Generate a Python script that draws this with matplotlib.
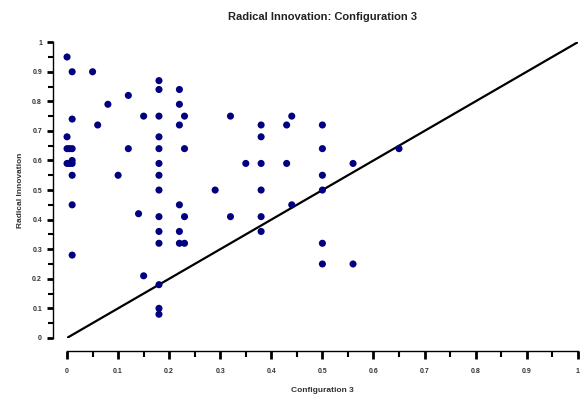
import matplotlib
matplotlib.use('Agg')
import matplotlib.pyplot as plt
import numpy as np
from matplotlib.ticker import MultipleLocator

# =============================================================================
# DATA
# =============================================================================

config3 = [0.00, 0.00, 0.00, 0.005, 0.01, 0.00, 0.005, 0.01,
           0.01, 0.01, 0.01, 0.01, 0.01, 0.01,
           0.05, 0.06, 0.08, 0.10, 0.12, 0.12, 0.14, 0.15, 0.15,
           0.18, 0.18, 0.18, 0.18, 0.18, 0.18, 0.18, 0.18, 0.18,
           0.18, 0.18, 0.18, 0.18, 0.18,
           0.22, 0.22, 0.22, 0.22, 0.22, 0.22,
           0.23, 0.23, 0.23, 0.23,
           0.29, 0.32, 0.32, 0.35,
           0.38, 0.38, 0.38, 0.38, 0.38, 0.38,
           0.43, 0.43, 0.44, 0.44,
           0.50, 0.50, 0.50, 0.50, 0.50, 0.50,
           0.56, 0.56, 0.65]
radical = [0.95, 0.68, 0.64, 0.64, 0.64, 0.59, 0.59, 0.59,
           0.90, 0.74, 0.55, 0.45, 0.28, 0.60,
           0.90, 0.72, 0.79, 0.55, 0.82, 0.64, 0.42, 0.75, 0.21,
           0.87, 0.84, 0.75, 0.68, 0.64, 0.59, 0.55, 0.50, 0.41,
           0.36, 0.32, 0.18, 0.10, 0.08,
           0.84, 0.79, 0.72, 0.45, 0.36, 0.32,
           0.75, 0.64, 0.41, 0.32,
           0.50, 0.75, 0.41, 0.59,
           0.72, 0.68, 0.59, 0.50, 0.41, 0.36,
           0.72, 0.59, 0.75, 0.45,
           0.72, 0.64, 0.55, 0.50, 0.32, 0.25,
           0.59, 0.25, 0.64]

ref_line = [0, 1]

# =============================================================================
# PLOT
# =============================================================================

plt.rcParams['font.family'] = ['Liberation Sans', 'DejaVu Sans']

fig = plt.figure(figsize=(5.83, 3.98), dpi=100)
ax = fig.add_axes([0.115, 0.151, 0.876, 0.743])

ax.plot(ref_line, ref_line, color='black', lw=1.6, zorder=2)
ax.scatter(config3, radical, s=26, color='#000080', edgecolors='none',
           zorder=3, clip_on=False)

ax.set_xlim(0, 1)
ax.set_ylim(0, 1)

for side in ['top', 'right']:
    ax.spines[side].set_visible(False)
ax.spines['left'].set_position(('outward', 10))
ax.spines['bottom'].set_position(('outward', 9.5))
ax.spines['left'].set_linewidth(1.0)
ax.spines['bottom'].set_linewidth(1.0)

ax.xaxis.set_major_locator(MultipleLocator(0.1))
ax.xaxis.set_minor_locator(MultipleLocator(0.05))
ax.yaxis.set_major_locator(MultipleLocator(0.1))
ax.yaxis.set_minor_locator(MultipleLocator(0.05))
ax.xaxis.set_major_formatter(plt.FuncFormatter(lambda v, p: '%g' % round(v, 2)))
ax.yaxis.set_major_formatter(plt.FuncFormatter(lambda v, p: '%g' % round(v, 2)))

ax.tick_params(which='both', color='black', labelsize=5,
               labelcolor='#333333')
ax.tick_params(axis='x', which='major', length=5.5, width=2, pad=7)
ax.tick_params(axis='x', which='minor', length=4, width=1.5)
ax.tick_params(axis='y', which='major', length=4, width=2, pad=4)
ax.tick_params(axis='y', which='minor', length=3.5, width=1.5)
for lab in ax.get_xticklabels() + ax.get_yticklabels():
    lab.set_fontweight('bold')

ax.set_xlabel('Configuration 3', fontsize=6, fontweight='bold',
              color='#333333', labelpad=8)
ax.set_ylabel('Radical Innovation', fontsize=6, fontweight='bold',
              color='#333333', labelpad=6)
fig.text(0.553, 0.958, 'Radical Innovation: Configuration 3', ha='center',
         va='center', fontsize=8, fontweight='bold', color='#222222')

fig.savefig('out.png', dpi=100)
